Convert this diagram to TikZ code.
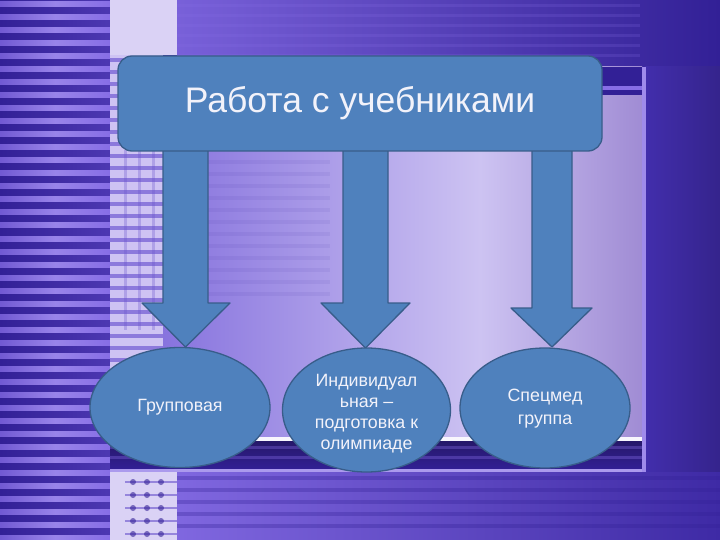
\documentclass[tikz,border=0pt]{standalone}
\usepackage{fontspec}
\setmainfont{Liberation Sans}
\usetikzlibrary{shapes.geometric}
\definecolor{basep}{RGB}{62,42,165}
\definecolor{stripeL}{RGB}{135,110,230}
\definecolor{stripeD}{RGB}{50,32,150}
\definecolor{lav}{RGB}{218,210,245}
\definecolor{panelA}{RGB}{135,115,222}
\definecolor{panelB}{RGB}{205,195,242}
\definecolor{panelC}{RGB}{160,140,212}
\definecolor{darkband}{RGB}{38,24,105}
\definecolor{framec}{RGB}{66,46,172}
\definecolor{boxfill}{RGB}{79,129,189}
\definecolor{boxline}{RGB}{56,93,138}
\definecolor{txt}{RGB}{242,242,250}
\tikzset{
  blockshape/.style={fill=boxfill, draw=boxline, line width=1.3pt, line join=round},
  headbox/.style={blockshape, rectangle, rounded corners=14pt, minimum width=484pt, minimum height=95pt, inner sep=0pt, text=txt, font=\fontsize{35.5}{42}\selectfont},
  oval/.style={blockshape, ellipse, inner sep=0pt, text=txt, align=center, font=\fontsize{17.8}{21.5}\selectfont}
}
\begin{document}
\begin{tikzpicture}[x=1pt,y=-1pt]
\useasboundingbox (0,0) rectangle (720,540);
% ---------- background ----------
\fill[basep] (0,0) rectangle (720,540);
% left striped column
\shade[left color=stripeD, right color=basep!80!stripeL] (0,0) rectangle (110,540);
\foreach \y in {2,15,...,535} {
  \shade[left color=stripeL!70!basep, right color=stripeL, middle color=stripeL!85!white] (0,\y) rectangle (110,\y+5);
}
% top band
\shade[left color=stripeL!80!basep, right color=stripeD] (177,0) rectangle (720,67);
\foreach \y in {4,14,...,60} {
  \fill[stripeL, opacity=0.2] (177,\y) rectangle (640,\y+3);
}
% light top column
\fill[lav] (110,0) rectangle (177,55);
% grid column left of panel
\fill[lav!85!stripeL] (110,55) rectangle (163,470);
\foreach \y in {58,70,...,466} {
  \fill[stripeL!70!basep, opacity=0.7] (110,\y) rectangle (163,\y+4);
}
\foreach \x in {124,138,152} {
  \fill[stripeL!60!basep, opacity=0.3] (\x,150) rectangle (\x+3,330);
}
% central panel
\shade[left color=panelA, right color=panelB] (163,67) rectangle (480,440);
\shade[left color=panelB, right color=panelC] (480,67) rectangle (642,440);
\foreach \y in {160,172,...,300} {
  \fill[stripeD, opacity=0.07] (163,\y) rectangle (330,\y+4);
}
% dark top strip of panel
\fill[stripeD] (163,67) rectangle (642,95);
\fill[stripeL] (163,86) rectangle (642,90);
\fill[stripeD] (163,90) rectangle (642,95);
% dark band below panel
\fill[white!85!panelB] (163,437) rectangle (642,441);
\shade[top color=darkband, bottom color=stripeD] (110,441) rectangle (645,470);
\foreach \y in {446,456} {
  \fill[stripeL, opacity=0.35] (110,\y) rectangle (645,\y+3);
}
\fill[stripeL!70!white] (110,469) rectangle (645,472);
% right frame
\shade[left color=framec, right color=basep!85!black] (645,67) rectangle (720,472);
\fill[stripeL!80!white] (642,67) rectangle (646,472);
% bottom region
\shade[left color=stripeL!90!basep, right color=basep] (177,472) rectangle (720,540);
\foreach \y in {476,488,...,535} {
  \fill[stripeD, opacity=0.3] (177,\y) rectangle (720,\y+4);
}
% bottom-left light grid
\fill[lav] (110,472) rectangle (177,540);
\foreach \y in {481,494,...,535} {
  \fill[stripeL!60!basep, opacity=0.6] (125,\y) rectangle (177,\y+2);
  \foreach \x in {133,147,161} {
    \fill[stripeD, opacity=0.6] (\x,\y+1) ellipse (3pt and 3pt);
  }
}
% ---------- diagram ----------
% block arrows (drawn first, shafts pass behind the header box)
\filldraw[blockshape] (163,140) -- (208,140) -- (208,303) -- (230,303) -- (185.5,347) -- (142,303) -- (163,303) -- cycle;
\filldraw[blockshape] (343,140) -- (388,140) -- (388,303) -- (410,303) -- (365.5,348) -- (321,303) -- (343,303) -- cycle;
\filldraw[blockshape] (532,140) -- (572,140) -- (572,308) -- (592,308) -- (552,347) -- (511,308) -- (532,308) -- cycle;
% header
\node[headbox] (head) at (360,103.5) {Работа с учебниками};
% ovals
\node[oval, minimum width=180pt, minimum height=120pt] (grp) at (180,407.5) {Групповая};
\node[oval, minimum width=168pt, minimum height=124pt] (ind) at (366.5,410) {};
\node[text=txt, align=center, font=\fontsize{17.8}{21.2}\selectfont] (indt) at (366.5,413.5) {Индивидуал\\ьная –\\подготовка к\\олимпиаде};
\node[oval, minimum width=170pt, minimum height=120pt] (spec) at (545,408) {};
\node[text=txt, align=center, font=\fontsize{17.8}{22.5}\selectfont] (spect) at (545,408.5) {Спецмед\\группа};
\end{tikzpicture}
\end{document}
